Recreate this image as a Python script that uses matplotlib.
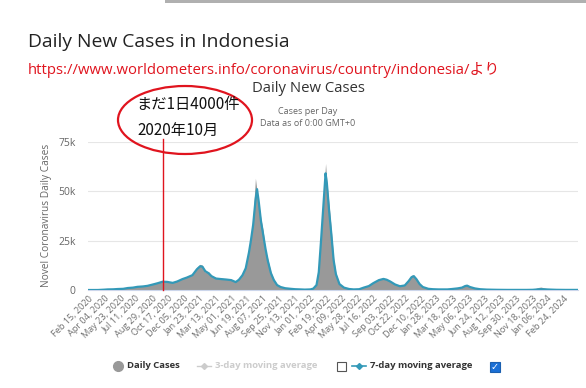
import matplotlib
matplotlib.use("Agg")
import matplotlib.pyplot as plt
from matplotlib.patches import Ellipse, Rectangle
from matplotlib.lines import Line2D
import numpy as np
import pandas as pd

# 読み取った値（千件単位） - サンプル日付ごと
dates = [
    "2020-02-15", "2020-03-01", "2020-03-15", "2020-04-01", "2020-04-15", "2020-05-01",
    "2020-05-15", "2020-06-01", "2020-06-15", "2020-07-01", "2020-07-15", "2020-08-01",
    "2020-08-15", "2020-09-01", "2020-09-15", "2020-10-01", "2020-10-15", "2020-11-01",
    "2020-11-15", "2020-12-01", "2020-12-15", "2021-01-01", "2021-01-15", "2021-01-25",
    "2021-02-01", "2021-02-10", "2021-02-20", "2021-03-01", "2021-03-15", "2021-04-01",
    "2021-04-15", "2021-05-01", "2021-05-15", "2021-05-25", "2021-06-05", "2021-06-15",
    "2021-06-25", "2021-07-01", "2021-07-08", "2021-07-15", "2021-07-20", "2021-07-25",
    "2021-08-01", "2021-08-08", "2021-08-15", "2021-08-22", "2021-09-01", "2021-09-10",
    "2021-09-20", "2021-10-01", "2021-10-15", "2021-11-01", "2021-11-15", "2021-12-01",
    "2021-12-15", "2022-01-01", "2022-01-10", "2022-01-20", "2022-01-27", "2022-02-03",
    "2022-02-10", "2022-02-17", "2022-02-21", "2022-02-28", "2022-03-07", "2022-03-14",
    "2022-03-21", "2022-04-01", "2022-04-15", "2022-05-01", "2022-05-15", "2022-06-01",
    "2022-06-15", "2022-07-01", "2022-07-15", "2022-08-01", "2022-08-15", "2022-08-25",
    "2022-09-05", "2022-09-20", "2022-10-05", "2022-10-20", "2022-11-01", "2022-11-10",
    "2022-11-17", "2022-11-25", "2022-12-05", "2022-12-15", "2023-01-01", "2023-01-15",
    "2023-02-01", "2023-02-15", "2023-03-01", "2023-03-15", "2023-04-01", "2023-04-15",
    "2023-04-25", "2023-05-01", "2023-05-10", "2023-05-25", "2023-06-10", "2023-07-01",
    "2023-08-01", "2023-09-01", "2023-10-01", "2023-11-01", "2023-11-20", "2023-12-05",
    "2023-12-15", "2024-01-01", "2024-01-15", "2024-02-01", "2024-03-01", "2024-04-08",
]
avg7 = [
    0, 0, 0.01, 0.15, 0.3, 0.35,
    0.5, 0.6, 1.0, 1.2, 1.6, 1.8,
    2.1, 2.8, 3.4, 4.2, 4.1, 3.6,
    4.3, 5.5, 6.3, 7.5, 10.5, 12.0,
    11.8, 9.5, 8.5, 7.0, 5.8, 5.5,
    5.3, 5.0, 4.0, 5.2, 7.5, 11.0,
    19.0, 25.0, 33.0, 45.0, 51.0, 45.0,
    35.0, 28.0, 21.0, 15.0, 8.5, 5.0,
    2.5, 1.5, 0.9, 0.6, 0.4, 0.3,
    0.2, 0.3, 0.7, 2.5, 9.0, 25.0,
    42.0, 59.0, 54.0, 40.0, 28.0, 15.0,
    8.0, 3.0, 1.2, 0.5, 0.3, 0.4,
    1.2, 2.0, 3.5, 5.0, 5.6, 5.2,
    4.3, 2.8, 1.9, 2.3, 4.5, 6.5,
    7.0, 5.5, 3.0, 1.5, 0.6, 0.4,
    0.3, 0.3, 0.3, 0.5, 0.8, 1.2,
    2.0, 2.2, 1.5, 0.8, 0.4, 0.2,
    0.1, 0.05, 0.05, 0.05, 0.1, 0.3,
    0.4, 0.3, 0.2, 0.1, 0.05, 0.05,
]
daily = [
    0, 0, 0.01, 0.15, 0.35, 0.4,
    0.6, 0.7, 1.1, 1.4, 1.7, 2.0,
    2.3, 3.0, 3.6, 4.5, 4.3, 3.8,
    4.8, 5.8, 6.8, 8.0, 11.5, 13.0,
    12.5, 9.0, 9.2, 7.5, 6.2, 6.0,
    5.6, 5.2, 4.3, 5.8, 8.0, 12.5,
    21.0, 25.5, 38.0, 56.5, 50.0, 44.0,
    36.0, 30.0, 20.0, 16.0, 9.0, 5.5,
    2.8, 1.6, 1.0, 0.7, 0.4, 0.3,
    0.2, 0.3, 0.8, 3.0, 11.0, 27.0,
    46.0, 64.0, 55.0, 43.0, 30.0, 16.0,
    8.5, 3.2, 1.3, 0.6, 0.3, 0.5,
    1.4, 2.2, 3.9, 5.5, 6.0, 5.6,
    4.6, 3.0, 2.0, 2.5, 5.0, 7.5,
    7.5, 5.8, 3.2, 1.6, 0.7, 0.4,
    0.3, 0.3, 0.3, 0.5, 0.9, 1.3,
    2.2, 2.6, 1.6, 0.9, 0.4, 0.2,
    0.1, 0.05, 0.05, 0.05, 0.1, 1.2,
    1.5, 0.8, 0.3, 0.1, 0.05, 0.05,
]

tick_start = "2020-02-15"
tick_step_days = 49
n_ticks = 31
mark_date = "2020-10-01"

x = pd.to_datetime(dates)
y7 = np.array(avg7) * 1000
yd = np.array(daily) * 1000

W, H = 586, 388
fig = plt.figure(figsize=(W / 100, H / 100), dpi=100)
plt.rcParams['font.family'] = ['Open Sans', 'Noto Sans CJK JP', 'DejaVu Sans']
CJK = ["Noto Sans CJK JP", "DejaVu Sans"]

def fx(px): return px / W
def fy(py): return 1 - py / H

ax = fig.add_axes([fx(88), fy(290), fx(578) - fx(88), fy(141.7) - fy(290)])
ax.fill_between(x, 0, yd, color="#999999", lw=0, zorder=2)
ax.plot(x, y7, color="#3399b8", lw=1.6, zorder=3)

ax.set_ylim(0, 75000)
ax.set_xlim(pd.Timestamp("2020-02-13"), pd.Timestamp("2024-04-08"))
ax.set_yticks([0, 25000, 50000, 75000])
ax.set_yticklabels(["0", "25k", "50k", "75k"], fontsize=7.5, color="#666666")
ax.yaxis.grid(True, color="#e6e6e6", lw=0.8)
ax.set_axisbelow(True)
for s in ["top", "right", "left"]:
    ax.spines[s].set_visible(False)
ax.spines["bottom"].set_color("#ccd6eb")
ax.tick_params(axis="y", length=0, pad=9)
ax.tick_params(axis="x", length=0, pad=3)

ticks = pd.date_range(tick_start, periods=n_ticks, freq=f"{tick_step_days}D")
ax.set_xticks(ticks)
ax.set_xticklabels([t.strftime("%b %d, %Y") for t in ticks], rotation=45,
                   ha="right", rotation_mode="anchor", fontsize=6.6, color="#707070")
ax.set_ylabel("Novel Coronavirus Daily Cases", fontsize=7.3, color="#666666", labelpad=4)

# 赤線
md = pd.Timestamp(mark_date)
ax.plot([md, md], [0, 76500], color="#e0141e", lw=1.0, clip_on=False, zorder=4)

# 楕円と注記
ell = Ellipse((fx(185), fy(120)), fx(134), 68 / H, transform=fig.transFigure,
              fill=False, edgecolor="#e0141e", lw=1.6)
fig.add_artist(ell)
fig.text(fx(136), fy(104), "まだ1日4000件", fontsize=11, ha="left", va="center",
         family=CJK, color="#111111")
fig.text(fx(137), fy(130), "2020年10月", fontsize=11, ha="left", va="center",
         family=CJK, color="#111111")

# タイトル類
fig.text(fx(28), fy(42), "Daily New Cases in Indonesia", fontsize=13.9, va="center",
         color="#222222")
fig.text(fx(28), fy(70), "https://www.worldometers.info/coronavirus/country/indonesia/より",
         fontsize=10.7, va="center", color="#e0141e",
         family=["Open Sans", "Noto Sans CJK JP"])
fig.text(fx(308), fy(88), "Daily New Cases", fontsize=10.7, ha="center", va="center",
         color="#333333")
fig.text(fx(308), fy(112), "Cases per Day", fontsize=6.5, ha="center", va="center",
         color="#666666")
fig.text(fx(308), fy(124), "Data as of 0:00 GMT+0", fontsize=6.5, ha="center", va="center",
         color="#666666")

# 上端のグレー帯
fig.add_artist(Rectangle((fx(165), fy(3)), 1 - fx(165), 3 / H, transform=fig.transFigure,
                         color="#b0b0b0", lw=0))

# 凡例
ly = fy(366)
fig.add_artist(Line2D([fx(118)], [ly], marker="o", ms=7, color="#999999",
                      transform=fig.transFigure))
fig.text(fx(127), ly, "Daily Cases", fontsize=6.8, weight="bold", va="center", color="#333333")
fig.add_artist(Line2D([fx(197), fx(211)], [ly, ly], color="#cccccc", lw=1,
                      transform=fig.transFigure))
fig.add_artist(Line2D([fx(204)], [ly], marker="D", ms=3, color="#cccccc",
                      transform=fig.transFigure))
fig.text(fx(215), ly, "3-day moving average", fontsize=6.8, weight="bold", va="center",
         color="#cccccc")
fig.add_artist(Rectangle((fx(337), fy(371)), 9 / W, 9 / H, transform=fig.transFigure,
                         fill=False, edgecolor="#555555", lw=0.8))
fig.add_artist(Line2D([fx(352), fx(366)], [ly, ly], color="#3399b8", lw=1.2,
                      transform=fig.transFigure))
fig.add_artist(Line2D([fx(359)], [ly], marker="D", ms=3, color="#3399b8",
                      transform=fig.transFigure))
fig.text(fx(370), ly, "7-day moving average", fontsize=6.8, weight="bold", va="center",
         color="#333333")
fig.add_artist(Rectangle((fx(490), fy(372)), 10 / W, 10 / H, transform=fig.transFigure,
                         facecolor="#1a6fd6", edgecolor="#1a5fb0", lw=0.8))
fig.text(fx(495), fy(367), "✓", fontsize=7, ha="center", va="center", color="white",
         family=["DejaVu Sans"], weight="bold")

fig.savefig("out.png", dpi=100)
